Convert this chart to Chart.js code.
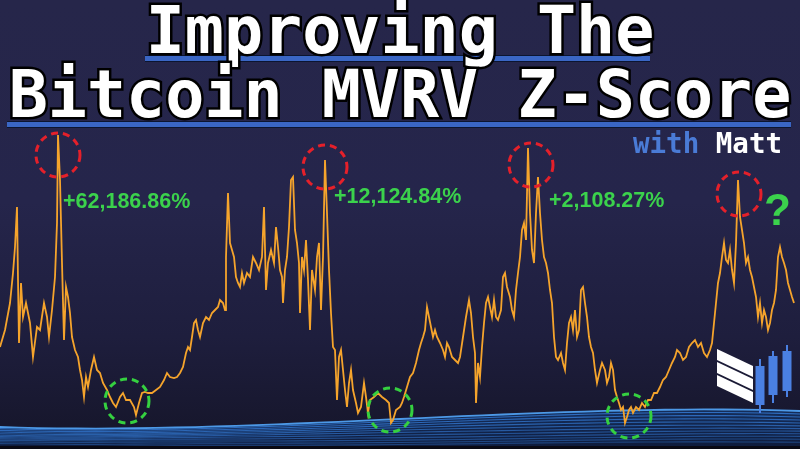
<!DOCTYPE html>
<html>
<head>
<meta charset="utf-8">
<script src="https://cdn.jsdelivr.net/npm/chart.js@4.4.1/dist/chart.umd.min.js"></script>
<style>
  html, body { margin: 0; padding: 0; background: #1c1c38; }
  #wrap {
    position: relative; width: 800px; height: 449px; overflow: hidden;
    background: linear-gradient(180deg, #26264a 0%, #25254b 45%, #1e1e3d 75%, #151529 100%);
  }
  #c { position: absolute; left: 0; top: 0; }
  .title {
    position: absolute; left: 0; width: 800px; text-align: center;
    font-family: "DejaVu Sans Mono", monospace; font-weight: bold; font-size: 65px; line-height: 65px;
    color: #fff; -webkit-text-stroke: 5px #000; paint-order: stroke fill; white-space: pre;
  }
  .bar { position: absolute; height: 5px; background: #3a66c4; border-top: 1px solid #0c1530; border-bottom: 1px solid #0c1530; }
  .byline {
    position: absolute; left: 633px; top: 130px;
    font-family: "DejaVu Sans Mono", monospace; font-weight: bold; font-size: 27.5px; line-height: 27.5px;
    white-space: pre;
  }
  .gain {
    position: absolute; font-family: "Liberation Sans", Arial, sans-serif; font-weight: bold;
    font-size: 21.5px; line-height: 22px; color: #3bd24c; white-space: pre;
  }
</style>
</head>
<body>
<div id="wrap">
  <canvas id="c" width="800" height="449"></canvas>
  <div class="bar" style="left:145px;top:55px;width:505px"></div>
  <div class="bar" style="left:7px;top:121px;width:784px"></div>
  <div class="title" style="top:-2px">Improving The</div>
  <div class="title" style="top:62px">Bitcoin MVRV Z-Score</div>
  <div class="byline"><span style="color:#4a7bd6">with</span> <span style="color:#fff">Matt</span></div>
  <div class="gain" style="left:63px;top:190px">+62,186.86%</div>
  <div class="gain" style="left:334px;top:185px">+12,124.84%</div>
  <div class="gain" style="left:549px;top:189px">+2,108.27%</div>
  <div class="gain" style="left:764px;top:188px;font-size:44px;line-height:44px">?</div>
</div>
<script>
// time index across the chart and the MVRV-style reading at each step
const timeIdx = [0,5,10,13,15,17,18,19,21,23,26,30,33,37,40,44,47,49,52,55,57,58,60,62,64,66,68,70,72,75,78,80,82,84,86,88,91,94,97,100,
  103,107,110,113,116,120,123,126,130,134,136,139,142,145,148,152,156,160,164,167,170,174,177,180,183,186,188,190,192,194,196,198,
  200,203,206,209,212,215,218,220,223,225,226,228,230,232,234,236,238,240,242,244,247,250,253,256,259,262,264,266,268,271,274,276,278,
  280,282,283,285,287,289,291,293,295,297,299,300,302,304,306,308,310,312,315,317,319,321,323,325,327,329,331,333,335,337,339,341,343,
  345,347,349,351,353,356,358,361,364,366,368,370,374,378,382,386,389,391,393,396,400,402,404,407,410,413,416,419,421,423,425,427,429,
  431,433,435,437,440,443,445,447,449,452,455,458,460,463,466,469,471,473,475,476,478,480,482,484,486,488,490,492,494,496,498,501,503,
  505,507,510,512,514,516,518,520,522,524,526,528,530,532,534,536,538,540,542,544,546,548,550,552,554,556,558,561,563,565,567,569,571,
  573,575,577,579,581,583,585,587,589,591,593,595,597,600,602,605,607,609,611,613,615,617,619,621,623,625,627,629,631,633,636,639,642,
  645,648,651,654,657,660,663,666,669,672,675,677,680,683,686,689,692,695,698,701,704,707,710,712,714,716,718,720,722,724,726,728,730,
  732,734,736,738,740,742,744,746,748,750,752,754,756,758,760,762,764,766,768,770,772,774,776,778,780,782,784,786,788,790,792,794];
const zScore = [102,119,146,176,202,242,169,106,166,132,146,126,92,122,119,146,132,112,139,172,226,314,269,186,109,162,152,136,112,99,92,79,69,52,72,62,79,92,79,76,
  66,59,52,46,42,52,56,49,49,42,34,46,56,57,56,56,59,62,69,76,72,71,72,76,82,96,102,99,112,126,129,119,
  112,126,132,129,136,139,142,149,146,139,192,256,206,199,192,172,166,162,176,166,176,172,192,186,179,192,242,159,186,199,186,222,202,
  179,172,146,179,192,222,269,272,219,206,186,136,192,179,209,169,119,179,159,192,206,139,192,289,236,179,136,102,99,49,92,99,79,
  59,42,66,79,59,46,36,42,66,52,36,49,52,56,52,49,46,26,29,39,42,46,52,62,72,76,86,99,106,112,119,142,132,
  122,112,119,112,106,99,92,106,102,92,89,86,92,112,132,149,136,112,96,46,86,72,102,126,146,152,142,132,149,132,129,139,172,
  176,162,152,139,132,159,176,192,219,226,209,301,236,199,186,236,272,236,209,192,186,176,159,146,112,92,89,96,86,79,106,126,132,
  119,139,112,119,159,162,146,132,112,102,96,79,66,79,86,79,66,72,86,79,59,52,46,39,42,26,32,39,42,36,42,39,46,
  42,49,49,56,56,62,69,72,79,86,92,99,96,89,92,102,106,109,102,106,96,92,99,106,126,146,166,176,192,206,189,186,199,
  179,166,206,269,232,219,206,186,192,179,172,162,152,132,146,126,139,132,119,126,139,146,159,192,202,192,186,179,166,159,152,146];

// cycle tops and bottoms that get ringed
const topIdx = [58, 325, 531, 739];
const topRing = [294, 282, 284, 255];
const lowIdx = [127, 390, 629];
const lowRing = [48, 39, 33];

const points = timeIdx.map((t, i) => ({ x: t, y: zScore[i] }));

function waveTop(t) {
  // cubic bezier for the top edge of the blue band
  const p = [[0, 427], [250, 436], [550, 402], [800, 411]];
  const u = 1 - t;
  const x = u*u*u*p[0][0] + 3*u*u*t*p[1][0] + 3*u*t*t*p[2][0] + t*t*t*p[3][0];
  const y = u*u*u*p[0][1] + 3*u*u*t*p[1][1] + 3*u*t*t*p[2][1] + t*t*t*p[3][1];
  return [x, y];
}

function dashedRing(ctx, x, y, color) {
  ctx.save();
  ctx.strokeStyle = color;
  ctx.lineWidth = 3;
  ctx.setLineDash([7, 5]);
  ctx.beginPath();
  ctx.arc(x, y, 22, 0, Math.PI * 2);
  ctx.stroke();
  ctx.restore();
}

const decor = {
  id: 'decor',
  beforeDatasetsDraw(chart) {
    const ctx = chart.ctx;
    ctx.save();
    // band fill
    ctx.beginPath();
    for (let k = 0; k <= 40; k++) {
      const [x, y] = waveTop(k / 40);
      k === 0 ? ctx.moveTo(x, y) : ctx.lineTo(x, y);
    }
    ctx.lineTo(800, 449); ctx.lineTo(0, 449); ctx.closePath();
    const g = ctx.createLinearGradient(0, 405, 0, 449);
    g.addColorStop(0, '#16305f');
    g.addColorStop(1, '#0e1a3a');
    ctx.fillStyle = g;
    ctx.fill();
    // lines
    const n = 12;
    for (let i = 0; i < n; i++) {
      const f = i / n;
      ctx.beginPath();
      for (let k = 0; k <= 40; k++) {
        const [x, y] = waveTop(k / 40);
        const yy = y + f * (446 - y) + Math.sin(k / 40 * Math.PI * 2 + i * 0.5) * 1.2 * f;
        k === 0 ? ctx.moveTo(x, yy) : ctx.lineTo(x, yy);
      }
      ctx.strokeStyle = i === 0 ? 'rgba(80,160,240,0.95)' : 'rgba(55,130,225,' + (0.8 - f * 0.45) + ')';
      ctx.lineWidth = i === 0 ? 1.8 : 1.1;
      ctx.stroke();
    }
    ctx.fillStyle = '#0a0a14';
    ctx.fillRect(0, 446, 800, 3);
    ctx.restore();
  },
  afterDatasetsDraw(chart) {
    const ctx = chart.ctx;
    const xs = chart.scales.x, ys = chart.scales.y;
    topIdx.forEach((t, i) => dashedRing(ctx, xs.getPixelForValue(t), ys.getPixelForValue(topRing[i]), '#e5202a'));
    lowIdx.forEach((t, i) => dashedRing(ctx, xs.getPixelForValue(t), ys.getPixelForValue(lowRing[i]), '#35d040'));

    // logo: stripes + candles
    ctx.save();
    ctx.fillStyle = '#ffffff';
    for (let s = 0; s < 3; s++) {
      const o = s * 13;
      ctx.beginPath();
      ctx.moveTo(717, 349 + o);
      ctx.lineTo(753, 366 + o);
      ctx.lineTo(753, 377 + o);
      ctx.lineTo(717, 360 + o);
      ctx.closePath();
      ctx.fill();
    }
    ctx.fillStyle = '#4a80e2';
    ctx.strokeStyle = '#4a80e2';
    ctx.lineWidth = 2;
    [[760, 366, 405, 359, 413], [773, 356, 395, 351, 403], [787, 351, 391, 345, 397]].forEach(c => {
      ctx.beginPath(); ctx.moveTo(c[0], c[3]); ctx.lineTo(c[0], c[4]); ctx.stroke();
      ctx.fillRect(c[0] - 4.5, c[1], 9, c[2] - c[1]);
    });
    ctx.restore();
  }
};

new Chart(document.getElementById('c').getContext('2d'), {
  type: 'line',
  data: {
    datasets: [{
      data: points,
      borderColor: '#f5a42c',
      borderWidth: 1.8,
      pointRadius: 0,
      tension: 0,
      fill: false
    }]
  },
  options: {
    responsive: false,
    animation: false,
    devicePixelRatio: 1,
    layout: { padding: 0 },
    plugins: { legend: { display: false }, tooltip: { enabled: false } },
    scales: {
      x: { type: 'linear', min: 0, max: 800, display: false },
      y: { min: 0, max: 449, display: false }
    }
  },
  plugins: [decor]
});
</script>
</body>
</html>
